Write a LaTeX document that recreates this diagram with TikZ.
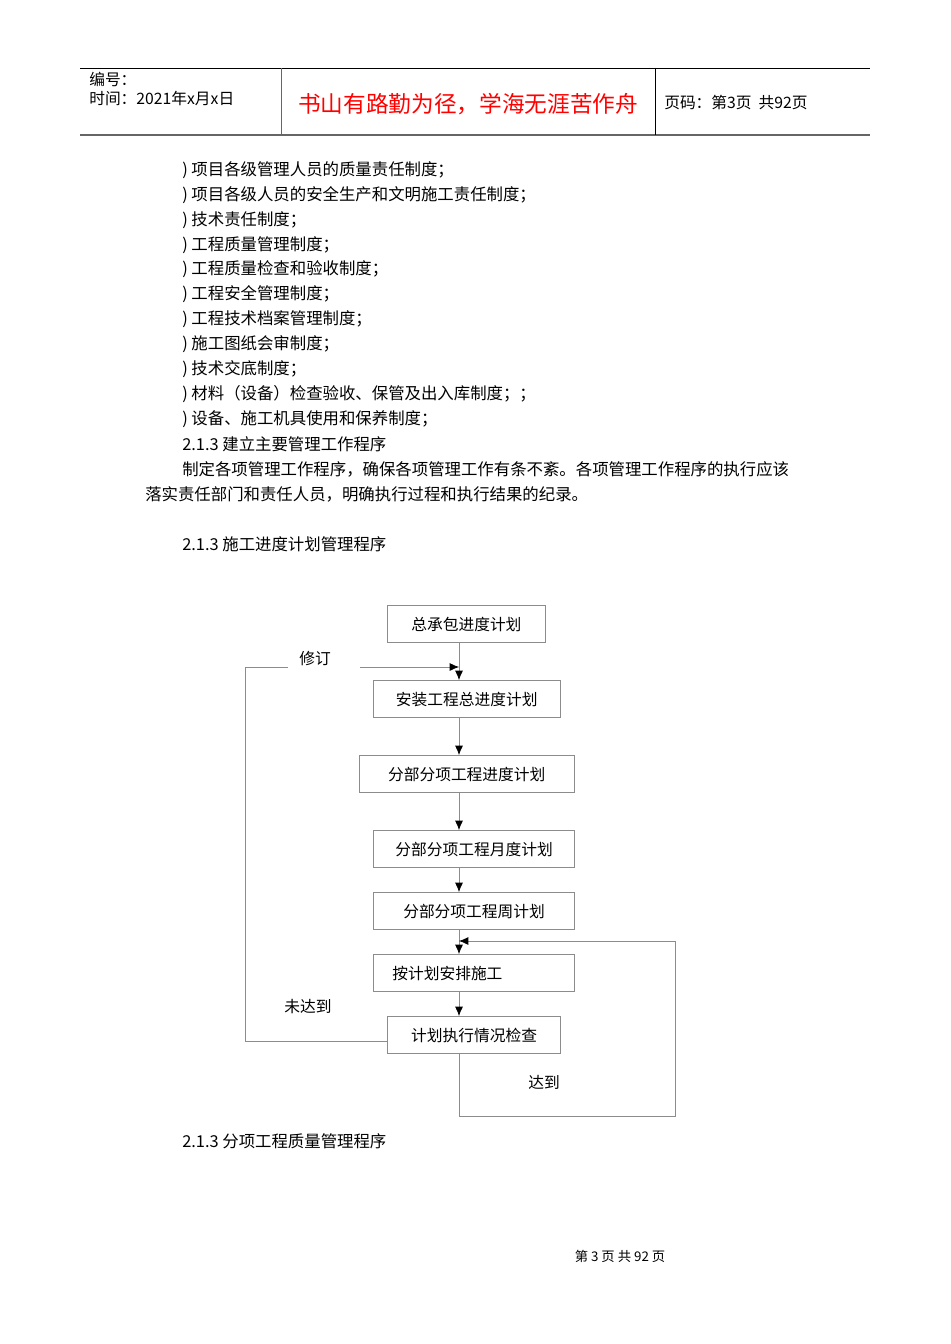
\documentclass[tikz,border=0pt]{standalone}
\usepackage{fontspec}
\setmainfont{Liberation Serif}
\newfontfamily\cjk{Noto Sans CJK SC}
\usetikzlibrary{arrows.meta}
\begin{document}
\begin{tikzpicture}[x=0.75pt,y=-0.75pt,
  every node/.style={font=\cjk\fontsize{11.8pt}{14pt}\selectfont,inner sep=0pt},
  txt/.style={anchor=west,font=\cjk\fontsize{12.3pt}{14pt}\selectfont},
  box/.style={draw=black!45,line width=0.6pt,anchor=north west,minimum height=28pt},
  ln/.style={draw=black!45,line width=0.6pt},
  arr/.style={ln,-{Latex[length=7pt,width=6pt,black]}}]
\useasboundingbox (0,0) rectangle (950,1344);
% header
\draw[line width=0.6pt] (80,68) -- (870,68);
\draw[line width=1pt,black!60] (80,135) -- (870,135);
\draw[line width=0.6pt,black!60] (281,68) -- (281,135);
\draw[line width=0.6pt] (655,68) -- (655,135);
\node[anchor=west] (h1) at (89,79) {编号：};
\node[anchor=west] (h2) at (89,99) {时间：2021年x月x日};
\node (h3) at (468,104) {\fontsize{17pt}{20pt}\selectfont\color{red}书山有路勤为径，学海无涯苦作舟};
\node[anchor=west] (h4) at (664,103) {页码：第3页\ \ 共92页};
% body
\foreach \t [count=\i from 0] in {项目各级管理人员的质量责任制度；,项目各级人员的安全生产和文明施工责任制度；,技术责任制度；,工程质量管理制度；,工程质量检查和验收制度；,工程安全管理制度；,工程技术档案管理制度；,施工图纸会审制度；,技术交底制度；,材料（设备）检查验收、保管及出入库制度；；,设备、施工机具使用和保养制度；}
  \node[txt] (l\i) at (182,170+24.9*\i) {) \t};
\node[txt] (p1) at (182,444) {2.1.3 建立主要管理工作程序};
\node[txt] (p2) at (182,469) {制定各项管理工作程序，确保各项管理工作有条不紊。各项管理工作程序的执行应该};
\node[txt] (p3) at (145,494) {落实责任部门和责任人员，明确执行过程和执行结果的纪录。};
\node[txt] (p4) at (182,544) {2.1.3 施工进度计划管理程序};
\node[txt] (p5) at (182,1141) {2.1.3 分项工程质量管理程序};
\node (ft) at (620,1256) {\fontsize{10pt}{12pt}\selectfont 第 3 页 共 92 页};
% flowchart
\node[box,minimum width=118.5pt] (b1) at (387,605) {总承包进度计划};
\node[box,minimum width=140pt] (b2) at (373,680) {安装工程总进度计划};
\node[box,minimum width=161pt] (b3) at (359,755) {分部分项工程进度计划};
\node[box,minimum width=151pt] (b4) at (373,830) {分部分项工程月度计划};
\node[box,minimum width=151pt] (b5) at (373,892) {分部分项工程周计划};
\node[box,minimum width=151pt] (b6) at (373,954) {\hspace*{-40pt}按计划安排施工};
\node[box,minimum width=130pt] (b7) at (387,1016) {计划执行情况检查};
\coordinate (x) at (459,0);
\foreach \a/\b in {b1/b2,b2/b3,b3/b4,b4/b5,b5/b6,b6/b7}
  \draw[arr] (\a.south -| x) -- (\b.north -| x);
\node (xd) at (315,659) {修订};
\node (wd) at (308,1007) {未达到};
\node (dd) at (544,1082) {达到};
\coordinate (c1) at (245,1041);
\coordinate (c2) at (245,667);
\coordinate (c3) at (288,667);
\coordinate (c4) at (360,667);
\coordinate (c5) at (459,667);
\draw[ln] (b7.west |- c1) -- (c1) -- (c2) -- (c3);
\draw[arr] (c4) -- (c5);
\coordinate (d1) at (459,1116);
\coordinate (d2) at (675,1116);
\coordinate (d3) at (675,941);
\coordinate (d4) at (459,941);
\draw[arr] (b7.south -| x) -- (d1) -- (d2) -- (d3) -- (d4);
\end{tikzpicture}
\end{document}
